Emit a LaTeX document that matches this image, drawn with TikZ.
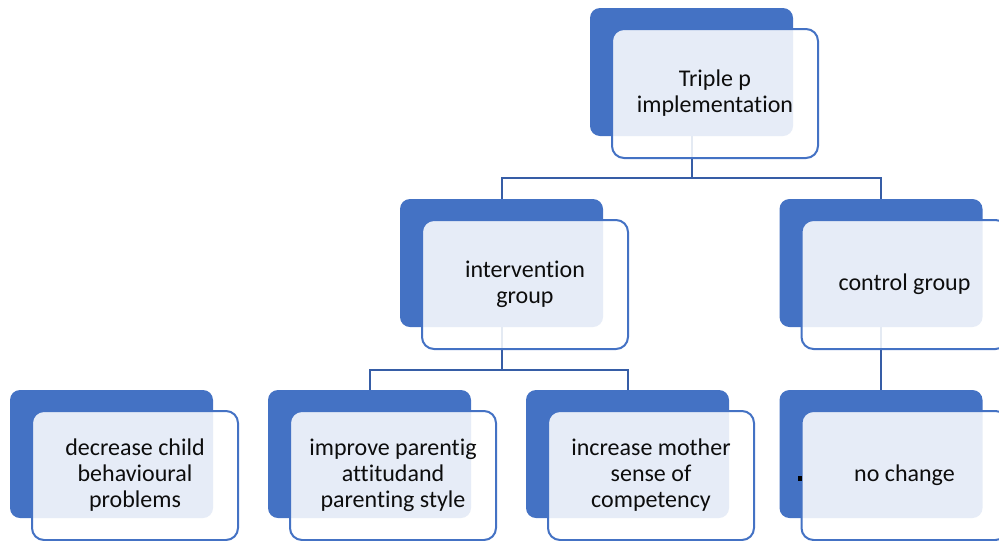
\documentclass[tikz,border=0pt]{standalone}
\usepackage{fontspec}
\setmainfont{Carlito}[Ligatures=NoCommon]
\usetikzlibrary{calc}
\definecolor{sablue}{HTML}{4472C4}
\definecolor{linkblue}{HTML}{365DA6}
\definecolor{ink}{HTML}{0D0D0D}
\tikzset{
  % solid blue card sitting behind each label
  back/.style={fill=sablue, rounded corners=7.5pt, minimum width=152.25pt, minimum height=96pt, inner sep=0pt},
  % outlined card on top, washed white so the blue shows through lightly
  front/.style={draw=sablue, line width=1.5pt, fill=white, fill opacity=0.87, text opacity=1,
                rounded corners=9pt, minimum width=154.5pt, minimum height=96.75pt, inner sep=0pt,
                align=center, text=ink, font=\fontsize{18}{19.5}\selectfont},
  link/.style={draw=linkblue, line width=1.5pt},
}

\begin{document}
\begin{tikzpicture}[x=0.75pt, y=-0.75pt]
  \useasboundingbox (0,0) rectangle (999,540);

  % ---- back cards ----
  \node[back] (tp)   at (691.5,72)  {};
  \node[back] (iv)   at (501.5,263) {};
  \node[back] (ctl)  at (881,263)   {};
  \node[back] (dec)  at (111.5,454) {};
  \node[back] (imp)  at (369.5,454) {};
  \node[back] (inc)  at (627.5,454) {};
  \node[back] (noch) at (881,454)   {};

  % ---- connectors ----
  \draw[link] (tp.south) -- ++(0,42) -| (iv.north);
  \draw[link] (tp.south) -- ++(0,42) -| (ctl.north);
  \draw[link] (iv.south) -- ++(0,43) -| (imp.north);
  \draw[link] (iv.south) -- ++(0,43) -| (inc.north);
  \draw[link] (ctl.south) -- (noch.north);

  % ---- front cards with the text ----
  \node[front] (tpT)   at ($(tp)+(23.5,21.5)$)   {Triple p\\implementation};
  \node[front] (ivT)   at ($(iv)+(23.5,21.5)$)   {intervention\\group};
  \node[front] (ctlT)  at ($(ctl)+(23.5,21.5)$)  {control group};
  \node[front] (decT)  at ($(dec)+(23.5,21.5)$)  {decrease child\\behavioural\\problems};
  \node[front] (impT)  at ($(imp)+(23.5,21.5)$)  {improve parentig\\attitudand\\parenting style};
  \node[front] (incT)  at ($(inc)+(23.5,21.5)$)  {increase mother\\sense of\\competency};
  \node[front] (nochT) at ($(noch)+(23.5,21.5)$) {no change};

  % small stray mark on the left edge of the last card
  \fill[black] (797.5,476) rectangle (802,480.5);
\end{tikzpicture}
\end{document}
